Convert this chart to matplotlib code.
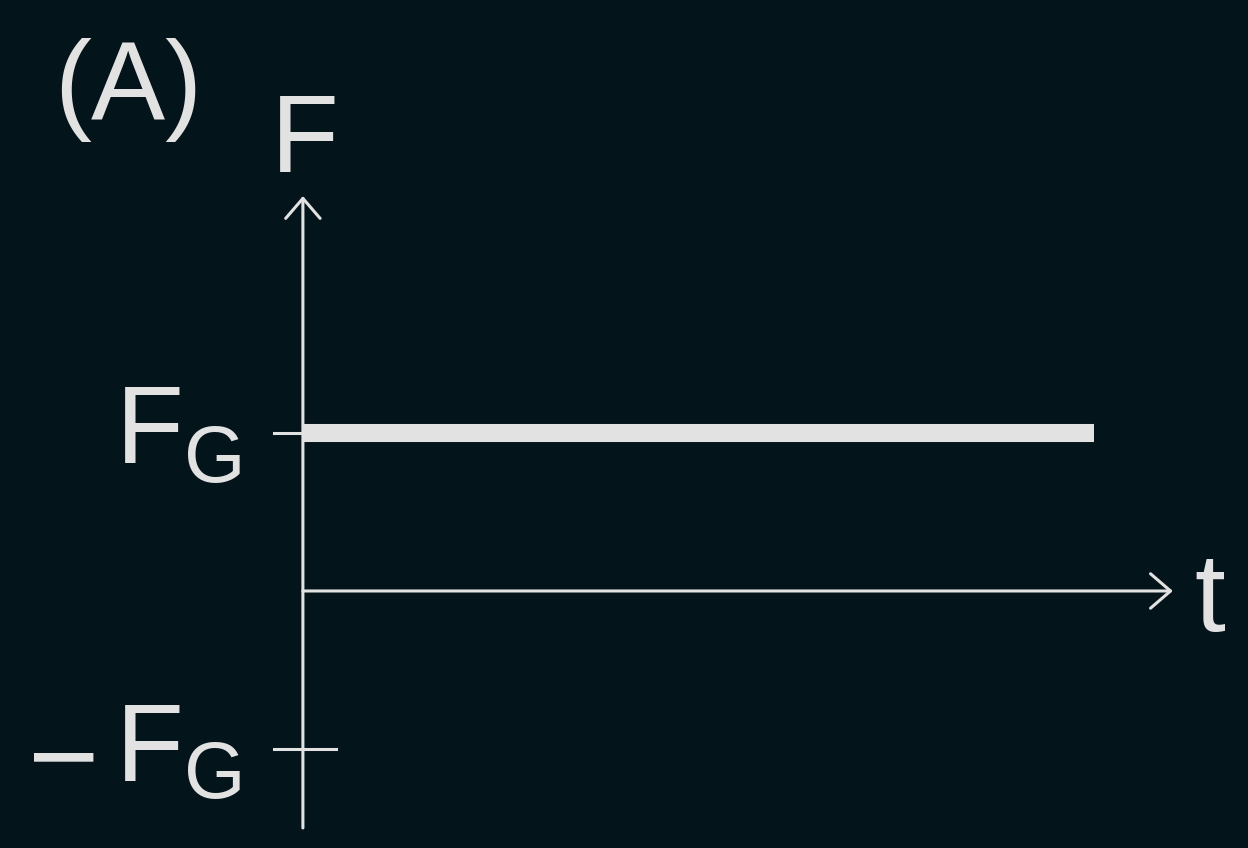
import matplotlib
matplotlib.use("Agg")
import matplotlib.pyplot as plt

# force vs time: constant F = F_G
t_line = [0, 10]
f_line = [1, 1]
tick_vals = [1, -1]
t_max = 11.0
f_top, f_bottom = 2.5, -1.5

bg = "#03141a"
fg = "#e2e2e2"
plt.rcParams["font.family"] = ["Liberation Sans", "DejaVu Sans"]

fig = plt.figure(figsize=(12.48, 8.48), dpi=100, facecolor=bg)
ax = fig.add_axes([0, 0, 1, 1])
ax.set_facecolor(bg)
ax.set_xlim(-3.83, 11.95)
ax.set_ylim(-1.627, 3.741)
ax.axis("off")

arrow = dict(arrowstyle="->,head_length=0.72,head_width=0.62", color=fg,
             lw=2.2, mutation_scale=20, shrinkA=0, shrinkB=0)
# axes with arrows
ax.annotate("", xy=(0, f_top), xytext=(0, f_bottom), arrowprops=arrow)
ax.annotate("", xy=(t_max, 0), xytext=(0, 0), arrowprops=arrow)

# the force line
ax.plot(t_line, f_line, color=fg, lw=13, solid_capstyle="butt")

# ticks
ax.plot([-0.37, 0], [tick_vals[0]] * 2, color=fg, lw=2.2)
ax.plot([-0.37, 0.42], [tick_vals[1]] * 2, color=fg, lw=2.2)

fs = 80
ax.text(-3.15, 2.99, "(A)", color=fg, fontsize=fs, ha="left", va="baseline")
ax.text(-0.41, 2.65, "F", color=fg, fontsize=fs, ha="left", va="baseline")
ax.text(11.27, -0.253, "t", color=fg, fontsize=fs, ha="left", va="baseline")

ax.text(-2.36, tick_vals[0] - 0.19, "F", color=fg, fontsize=fs, ha="left", va="baseline")
ax.text(-1.50, tick_vals[0] - 0.31, "G", color=fg, fontsize=57, ha="left", va="baseline")
ax.text(-2.36, tick_vals[1] - 0.20, "F", color=fg, fontsize=fs, ha="left", va="baseline")
ax.text(-1.50, tick_vals[1] - 0.31, "G", color=fg, fontsize=57, ha="left", va="baseline")
ax.text(-3.48, tick_vals[1] - 0.025, "\u2212", color=fg, fontsize=88, ha="left", va="center_baseline")

fig.savefig("out.png", dpi=100, facecolor=bg)
